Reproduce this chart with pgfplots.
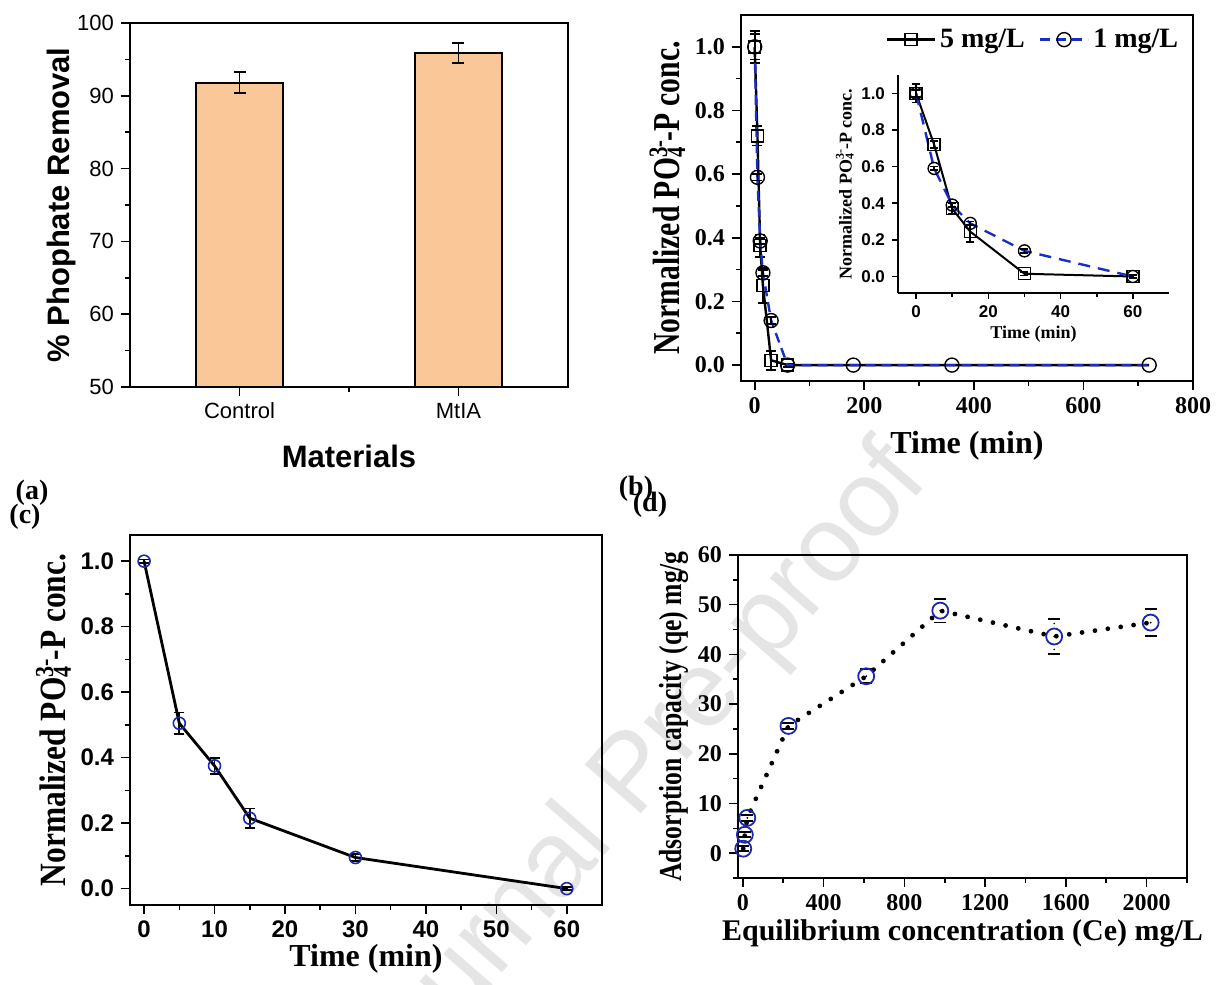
\documentclass[border=0pt]{standalone}
\usepackage{fontspec}
\setmainfont{Liberation Serif}
\setsansfont{Liberation Sans}
\usepackage{pgfplots}
\pgfplotsset{compat=1.18}
\definecolor{peach}{RGB}{250,200,152}
\definecolor{myblue}{RGB}{30,40,175}
\definecolor{dashblue}{RGB}{25,45,200}
\pgfplotsset{
  orig/.style={scale only axis, anchor=south west, tick align=outside, tick pos=left,
    major tick length=4.5pt, minor tick length=2.5pt,
    every tick/.style={black, line width=0.8pt},
    axis line style={line width=0.9pt},
    /pgf/number format/assume math mode=true,
    /pgf/number format/1000 sep={}},
  onedec/.style={yticklabel style={/pgf/number format/.cd, fixed, fixed zerofill, precision=1}},
  ebar/.style={error bars/.cd, y dir=both, y explicit,
    error bar style={line width=0.9pt, black},
    error mark options={rotate=90, mark size=#1, line width=0.9pt, black}},
}
\newcommand{\POlab}{Normalized PO\rlap{\textsuperscript{3-}}\textsubscript{4}\,-P conc.}
\begin{document}
\begin{tikzpicture}
\path[use as bounding box] (0,0) rectangle (608pt,492.5pt);
% watermark
\node[rotate=49, text=black!10, font=\sffamily\fontsize{54}{54}\selectfont] at (318pt,104pt) {Journal Pre-proof};

% ---------- (a)
\begin{axis}[orig, at={(65pt,299pt)}, width=219pt, height=182pt,
  xmin=-0.5, xmax=1.5, ymin=50, ymax=100,
  xtick={0,1}, xticklabels={Control,MtIA}, minor xtick={0.5},
  ytick={50,60,70,80,90,100}, minor ytick={55,65,75,85,95},
  tick label style={font=\sffamily\fontsize{11}{13}\selectfont},
  label style={font=\sffamily\bfseries\fontsize{15.5}{17}\selectfont},
  xlabel={Materials}, ylabel={\% Phophate Removal},
  xlabel style={yshift=-6pt}, ylabel style={yshift=-6pt}]
\addplot[ybar, bar width=0.4, fill=peach, draw=black, line width=1.1pt, ebar=3pt]
  coordinates {(0,91.8) +- (0,1.45) (1,95.9) +- (0,1.4)};
\end{axis}

% ---------- (b)
\begin{axis}[orig, onedec, at={(370.5pt,302pt)}, width=226pt, height=183pt,
  xmin=-25, xmax=800, ymin=-0.05, ymax=1.1,
  xtick={0,200,400,600,800}, minor xtick={100,300,500,700},
  ytick={0,0.2,0.4,0.6,0.8,1.0}, minor ytick={0.1,0.3,0.5,0.7,0.9},
  tick label style={font=\bfseries\fontsize{12}{14}\selectfont},
  label style={font=\bfseries\fontsize{16}{18}\selectfont},
  xlabel={Time (min)},
  ylabel={\fontsize{19}{21}\selectfont\scalebox{0.78}[1]{\POlab}},
  xlabel style={yshift=-2pt}, ylabel style={yshift=-2pt},
  legend style={at={(0.99,0.985)}, anchor=north east, draw=none, fill=none,
    font=\bfseries\fontsize{14}{16}\selectfont, legend columns=2,
    /tikz/every even column/.append style={column sep=5pt}},
  legend image code/.code={\draw[#1] (0pt,0pt) -- (24pt,0pt); \draw[#1, only marks] plot coordinates {(12pt,0pt)};}]
\addplot[black, line width=1.2pt, mark=square, mark size=3pt, mark indices={1,2,3,4,5,6},
  mark options={solid, fill=white, line width=0.7pt}, ebar=2.5pt]
  coordinates {(0,1.0) +- (0,0.05) (5,0.72) +- (0,0.03) (10,0.375) +- (0,0.035) (15,0.25) +- (0,0.055)
  (30,0.015) +- (0,0.03) (60,0.0) +- (0,0.005) (180,0.0) (360,0.0) (720,0.0)};
\addlegendentry{5 mg/L}
\addplot[dashblue, line width=1.2pt, dash pattern=on 5pt off 3pt, mark=o, mark size=3.5pt, mark options={solid, black, fill=white, line width=0.7pt}, ebar=2.5pt]
  coordinates {(0,1.0) +- (0,0.04) (5,0.59) +- (0,0.01) (10,0.39) +- (0,0.01) (15,0.29) +- (0,0.01)
  (30,0.14) +- (0,0.01) (60,0.0) (180,0.0) (360,0.0) (720,0.0)};
\addlegendentry{1 mg/L}
\end{axis}

% ---------- inset
\begin{axis}[orig, onedec, at={(449pt,346pt)}, width=135.5pt, height=109pt,
  axis x line*=bottom, axis y line*=left,
  xmin=-5, xmax=70, ymin=-0.09, ymax=1.1,
  xtick={0,20,40,60}, minor xtick={10,30,50},
  ytick={0,0.2,0.4,0.6,0.8,1.0},
  major tick length=3pt, minor tick length=1.8pt,
  tick label style={font=\sffamily\bfseries\fontsize{8.5}{10}\selectfont},
  label style={font=\bfseries\fontsize{9}{10}\selectfont},
  xlabel={Time (min)}, ylabel={\POlab},
  xlabel style={yshift=3pt}, ylabel style={yshift=-3pt}]
\addplot[black, line width=1pt, mark=square, mark size=3pt, mark options={solid, fill=white, line width=0.7pt}, ebar=2pt]
  coordinates {(0,1.0) +- (0,0.05) (5,0.72) +- (0,0.02) (10,0.37) +- (0,0.03) (15,0.245) +- (0,0.055)
  (30,0.015) +- (0,0.01) (60,0.0) +- (0,0.01)};
\addplot[dashblue, line width=1.2pt, dash pattern=on 6pt off 4pt, mark=o, mark size=3pt, mark options={solid, black, fill=white, line width=0.7pt}, ebar=2pt]
  coordinates {(0,1.0) +- (0,0.02) (5,0.59) +- (0,0.01) (10,0.39) +- (0,0.01) (15,0.29) +- (0,0.01)
  (30,0.14) +- (0,0.01) (60,0.0) +- (0,0.01)};
\end{axis}

% ---------- (c)
\begin{axis}[orig, onedec, at={(65pt,40pt)}, width=236pt, height=185pt,
  xmin=-2, xmax=65, ymin=-0.05, ymax=1.08,
  xtick={0,10,20,30,40,50,60}, minor xtick={5,15,25,35,45,55},
  ytick={0,0.2,0.4,0.6,0.8,1.0}, minor ytick={0.1,0.3,0.5,0.7,0.9},
  tick label style={font=\sffamily\bfseries\fontsize{12}{14}\selectfont},
  label style={font=\bfseries\fontsize{16}{18}\selectfont},
  xlabel={Time (min)}, ylabel={\fontsize{18.5}{20}\selectfont\scalebox{0.85}[1]{\POlab}},
  xlabel style={yshift=4pt}, ylabel style={yshift=-2pt}]
\addplot[black, line width=1.4pt, mark=o, mark size=3pt, mark options={solid, myblue, fill=white, line width=0.8pt}, ebar=2.5pt]
  coordinates {(0,1.0) +- (0,0.005) (5,0.505) +- (0,0.033) (10,0.375) +- (0,0.025) (15,0.215) +- (0,0.03)
  (30,0.095) +- (0,0.01) (60,0.0) +- (0,0.005)};
\end{axis}

% ---------- (d)
\begin{axis}[orig, at={(369pt,53.5pt)}, width=224.5pt, height=161.5pt, clip=false,
  xmin=-24, xmax=2200, ymin=-5, ymax=60,
  xtick={0,400,800,1200,1600,2000}, minor xtick={200,600,1000,1400,1800,2200},
  ytick={0,10,20,30,40,50,60}, minor ytick={-5,5,15,25,35,45,55},
  tick label style={font=\bfseries\fontsize{12}{14}\selectfont},
  label style={font=\bfseries\fontsize{15}{17}\selectfont},
  xlabel={Equilibrium concentration (Ce) mg/L}, ylabel={\fontsize{16}{18}\selectfont\scalebox{0.8}[1]{Adsorption capacity (qe) mg/g}},
  xlabel style={yshift=2pt}, ylabel style={yshift=-2pt}]
\addplot[black, line width=2.4pt, line cap=round, dash pattern=on 0pt off 6.5pt, mark=o, mark size=4pt,
  mark options={solid, myblue, fill=white, line width=0.9pt}, ebar=3pt]
  coordinates {(2,0.9) +- (0,0.5) (10,3.7) +- (0,0.5) (22,7.1) +- (0,0.6) (226,25.6) +- (0,0.6)
  (611,35.6) +- (0,1.4) (978,48.8) +- (0,2.4) (1542,43.6) +- (0,3.6) (2020,46.4) +- (0,2.75)};
\end{axis}

% panel letters
\node[font=\bfseries\fontsize{14}{16}\selectfont] at (16pt,246pt) {(a)};
\node[font=\bfseries\fontsize{14}{16}\selectfont] at (12.5pt,234pt) {(c)};
\node[font=\bfseries\fontsize{14}{16}\selectfont] at (318pt,248pt) {(b)};
\node[font=\bfseries\fontsize{14}{16}\selectfont] at (325pt,240pt) {(d)};
\end{tikzpicture}
\end{document}
